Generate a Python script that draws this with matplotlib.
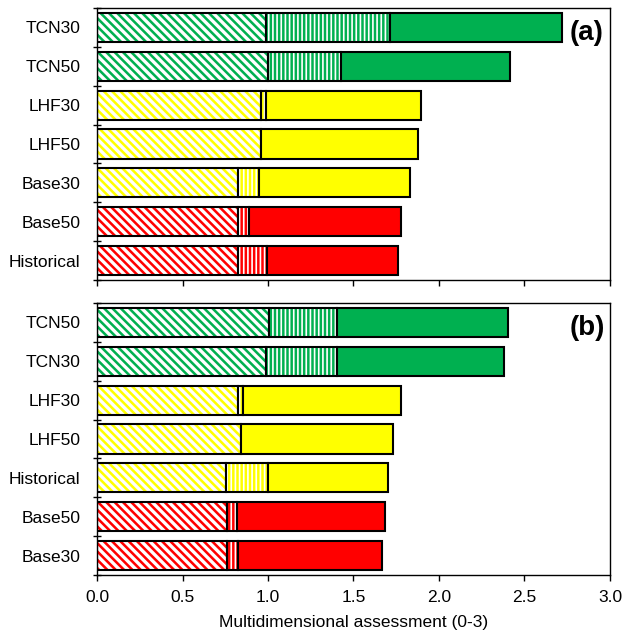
import numpy as np
import matplotlib
matplotlib.use("Agg")
import matplotlib.pyplot as plt

plt.rcParams['font.family'] = ['Liberation Sans', 'DejaVu Sans']

# panel (a)
labels_a = ['TCN30', 'TCN50', 'LHF30', 'LHF50', 'Base30', 'Base50', 'Historical']
seg1_a = [0.986, 1.001, 0.957, 0.957, 0.826, 0.826, 0.826]
seg2_a = [0.728, 0.424, 0.031, 0.0, 0.121, 0.064, 0.166]
total_a = [2.72, 2.416, 1.895, 1.876, 1.831, 1.778, 1.762]
colors_a = ['green', 'green', 'yellow', 'yellow', 'yellow', 'red', 'red']

# panel (b)
labels_b = ['TCN50', 'TCN30', 'LHF30', 'LHF50', 'Historical', 'Base50', 'Base30']
seg1_b = [1.005, 0.988, 0.826, 0.840, 0.752, 0.761, 0.761]
seg2_b = [0.400, 0.413, 0.029, 0.0, 0.246, 0.055, 0.065]
total_b = [2.405, 2.38, 1.778, 1.733, 1.704, 1.684, 1.669]
colors_b = ['green', 'green', 'yellow', 'yellow', 'yellow', 'red', 'red']

palette = {'green': '#00B050', 'yellow': '#FFFF00', 'red': '#FF0000'}


def hatched_bar(ax, y, left, width, color, hatch, hlw):
    if width <= 0:
        return
    with plt.rc_context({'hatch.linewidth': hlw, 'hatch.color': 'white'}):
        ax.barh(y, width, left=left, height=0.75, color=color,
                hatch=hatch, edgecolor='white', linewidth=0)
    ax.barh(y, width, left=left, height=0.75, fill=False,
            edgecolor='black', linewidth=1.5)


def draw_panel(ax, labels, seg1, seg2, total, colors, tag):
    n = len(labels)
    ys = np.arange(n)[::-1]
    for y, s1, s2, t, c in zip(ys, seg1, seg2, total, colors):
        col = palette[c]
        hatched_bar(ax, y, 0, s1, col, '\\\\\\\\', 2.4)
        hatched_bar(ax, y, s1, s2, col, '||||', 1.2)
        ax.barh(y, t - s1 - s2, left=s1 + s2, height=0.75, color=col,
                edgecolor='black', linewidth=1.5)
    ax.set_xlim(0, 3)
    ax.set_ylim(-0.5, n - 0.5)
    ax.set_xticks(np.arange(0, 3.01, 0.5))
    ax.set_yticks(np.arange(n + 1) - 0.5)
    ax.set_yticklabels([])
    ax.set_yticks(ys, minor=True)
    ax.set_yticklabels(labels, minor=True, fontsize=12.5)
    ax.tick_params(axis='y', which='major', direction='inout', length=6, width=1)
    ax.tick_params(axis='y', which='minor', length=0, pad=12)
    ax.tick_params(axis='x', direction='out', length=4, width=1,
                   labelsize=12.5, pad=7)
    for sp in ax.spines.values():
        sp.set_linewidth(1)
    ax.text(0.955, 0.908, tag, transform=ax.transAxes, fontsize=20,
            fontweight='bold', ha='center', va='center')


fig = plt.figure(figsize=(6.24, 6.36), dpi=100)
ax_a = fig.add_axes([0.1555, 0.5597, 0.822, 0.4277])
ax_b = fig.add_axes([0.1555, 0.0959, 0.822, 0.4277])

draw_panel(ax_a, labels_a, seg1_a, seg2_a, total_a, colors_a, '(a)')
draw_panel(ax_b, labels_b, seg1_b, seg2_b, total_b, colors_b, '(b)')
ax_a.set_xticklabels([])
ax_b.set_xlabel('Multidimensional assessment (0-3)', fontsize=12.5, labelpad=7)

fig.savefig('out.png', dpi=100)
